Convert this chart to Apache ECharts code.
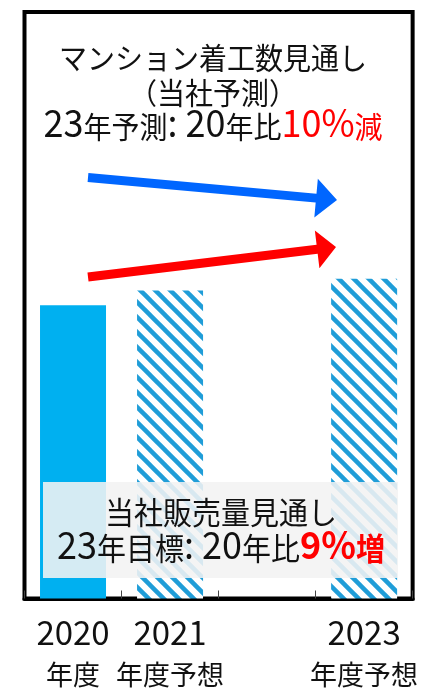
<!DOCTYPE html>
<html>
<head>
<meta charset="utf-8">
<script src="https://cdn.jsdelivr.net/npm/echarts@6/dist/echarts.min.js"></script>
<style>
  html, body { margin: 0; padding: 0; background: #fff; }
  #chart { width: 421px; height: 688px; }
</style>
</head>
<body>
<div id="chart"></div>
<script>
// Fiscal-year categories (the third slot is an unlabelled gap year)
const years = ['2020', '2021', '', '2023'];
const yearNotes = ['年度', '年度予想', '', '年度予想'];
// Sales volume index (2020 = 100)
const actualValues = [100, '-', '-', '-'];
const forecastValues = ['-', 105, '-', 109];
const yMax = 200;

// Annotation texts: [plain part, highlighted part]
const startsTitle = ['マンション着工数見通し', '（当社予測）'];
const startsChange = ['23年予測: 20年比', '10%減'];
const salesTitle = '当社販売量見通し';
const salesChange = ['23年目標: 20年比', '9%増'];

const CJK = '"Noto Sans CJK JP", "Noto Sans", sans-serif';

// Diagonal stripe fill for forecast bars
function stripePattern() {
  const size = 15;
  const c = document.createElement('canvas');
  c.width = size; c.height = size;
  const g = c.getContext('2d');
  g.fillStyle = '#ffffff';
  g.fillRect(0, 0, size, size);
  g.strokeStyle = '#1f9dd8';
  g.lineWidth = 4.5;
  for (const off of [-size, 0, size]) {
    g.beginPath();
    g.moveTo(off - 2, -2);
    g.lineTo(off + size + 2, size + 2);
    g.stroke();
  }
  return c;
}

// Thick arrow outline from tail to tip
function arrowPoints(x0, y0, x1, y1, shaftHalf, headLen, headHalf) {
  const dx = x1 - x0, dy = y1 - y0;
  const len = Math.hypot(dx, dy);
  const ux = dx / len, uy = dy / len;
  const nx = -uy, ny = ux;
  const bx = x1 - ux * headLen, by = y1 - uy * headLen;
  return [
    [x0 + nx * shaftHalf, y0 + ny * shaftHalf],
    [bx + nx * shaftHalf, by + ny * shaftHalf],
    [bx + nx * headHalf, by + ny * headHalf],
    [x1, y1],
    [bx - nx * headHalf, by - ny * headHalf],
    [bx - nx * shaftHalf, by - ny * shaftHalf],
    [x0 - nx * shaftHalf, y0 - ny * shaftHalf]
  ];
}

// Split a string into Latin / CJK runs and wrap each in a rich-text tag
function richRuns(str, prefix) {
  let out = '';
  let cur = '', curLatin = null;
  for (const ch of str) {
    const latin = ch.charCodeAt(0) < 0x2000;
    if (curLatin !== null && latin !== curLatin) {
      out += '{' + prefix + (curLatin ? 'L' : 'C') + '|' + cur + '}';
      cur = '';
    }
    cur += ch; curLatin = latin;
  }
  if (cur) out += '{' + prefix + (curLatin ? 'L' : 'C') + '|' + cur + '}';
  return out;
}

function richStyles(cjkSize, latinSize, lineHeight) {
  const base = { fontFamily: CJK, lineHeight: lineHeight, verticalAlign: 'bottom' };
  return {
    kC: Object.assign({ fontSize: cjkSize, fill: '#111' }, base),
    kL: Object.assign({ fontSize: latinSize, fill: '#111' }, base),
    rC: Object.assign({ fontSize: cjkSize, fill: '#ff0000' }, base),
    rL: Object.assign({ fontSize: latinSize, fill: '#ff0000' }, base),
    bC: Object.assign({ fontSize: cjkSize, fill: '#ff0000', fontWeight: 'bold' }, base),
    bL: Object.assign({ fontSize: latinSize, fill: '#ff0000', fontWeight: 'bold' }, base)
  };
}

const categories = years.map((y, i) => y ? y + '\n' + yearNotes[i] : '');

const titleText = richRuns(startsTitle[0], 'k') + '\n' + richRuns(startsTitle[1], 'k') + '\n' +
  richRuns(startsChange[0], 'k') + richRuns(startsChange[1], 'r');
const salesText = richRuns(salesTitle, 'k') + '\n' +
  richRuns(salesChange[0], 'k') + richRuns(salesChange[1], 'b');

const chart = echarts.init(document.getElementById('chart'));
chart.setOption({
  animation: false,
  backgroundColor: '#ffffff',
  grid: {
    left: 24.5, right: 7.5, top: 12, bottom: 89,
    show: true, borderColor: '#000', borderWidth: 4, backgroundColor: 'transparent'
  },
  xAxis: {
    type: 'category',
    data: categories,
    axisLine: { lineStyle: { color: '#000', width: 4 } },
    axisTick: { show: true, inside: true, length: 8, lineStyle: { color: '#444', width: 1 } },
    axisLabel: {
      margin: 13,
      interval: 0,
      formatter: function (v) {
        if (!v) return '';
        const parts = v.split('\n');
        return '{n|' + parts[0] + '}\n{c|' + parts[1] + '}';
      },
      rich: {
        n: { fontFamily: CJK, fontSize: 33, color: '#111', lineHeight: 42 },
        c: { fontFamily: CJK, fontSize: 27, color: '#111', lineHeight: 42 }
      }
    }
  },
  yAxis: { type: 'value', min: 0, max: yMax, show: false },
  series: [
    {
      type: 'bar', data: actualValues, barWidth: 66, barGap: '-100%',
      itemStyle: { color: '#00b0f0' }
    },
    {
      type: 'bar', data: forecastValues, barWidth: 66,
      itemStyle: { color: { image: stripePattern(), repeat: 'repeat' } }
    }
  ],
  graphic: [
    {
      type: 'text', z: 100, x: 213, y: 90, scaleY: 1.05,
      style: {
        text: titleText,
        align: 'center', verticalAlign: 'middle',
        rich: richStyles(28, 36, 33)
      }
    },
    {
      type: 'polygon', z: 100,
      shape: { points: arrowPoints(88, 177.5, 337, 200, 4.5, 21, 19.5) },
      style: { fill: '#0066ff' }
    },
    {
      type: 'polygon', z: 100,
      shape: { points: arrowPoints(88, 277, 336, 247, 4.5, 19, 19) },
      style: { fill: '#ff0000' }
    },
    {
      type: 'rect', z: 100,
      shape: { x: 43, y: 482, width: 355, height: 96 },
      style: { fill: 'rgba(242,242,242,0.88)' }
    },
    {
      type: 'text', z: 101, x: 221, y: 528, scaleY: 1.05,
      style: {
        text: salesText,
        align: 'center', verticalAlign: 'middle',
        rich: richStyles(29, 36, 34)
      }
    }
  ]
});
</script>
</body>
</html>
